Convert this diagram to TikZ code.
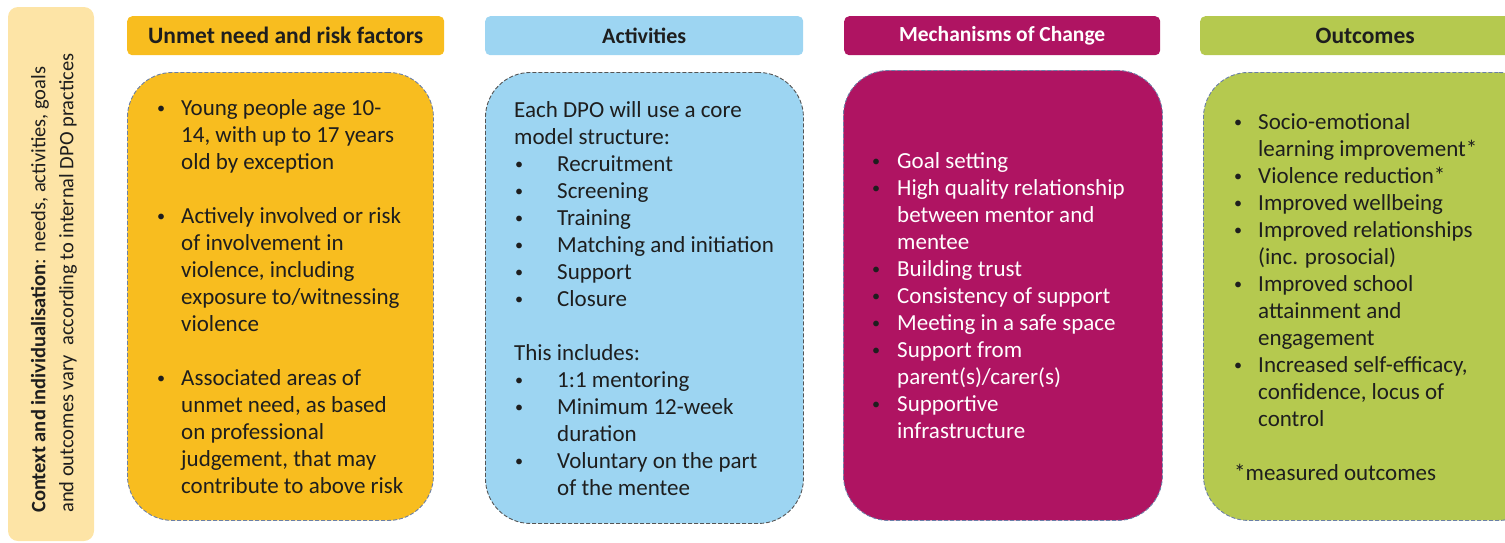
\documentclass[tikz,border=0pt]{standalone}
\usepackage{fontspec}
\setmainfont{Carlito}
\usepackage{array}
\usetikzlibrary{positioning}

\definecolor{needyellow}{HTML}{F8BD1F}
\definecolor{actblue}{HTML}{9DD5F2}
\definecolor{mechpink}{HTML}{AF1462}
\definecolor{outgreen}{HTML}{B5C94F}
\definecolor{ctxyellow}{HTML}{FDE4A6}
\definecolor{dashblue}{HTML}{6B80A8}
\definecolor{dashgrey}{HTML}{555555}
\definecolor{inkgrey}{HTML}{1E1E1E}

\tikzset{
  header/.style={rounded corners=5pt, minimum height=39pt, anchor=north west,
    inner sep=0pt, text=inkgrey, font=\fontsize{23.5}{26}\selectfont\bfseries},
  panel/.style={rounded corners=45pt, dash pattern=on 4pt off 2pt,
    line width=0.9pt, draw=dashblue, anchor=north west, inner sep=0pt},
  listtext/.style={anchor=west, inner sep=0pt, yshift=-3pt, text=inkgrey,
    font=\fontsize{23}{27}\selectfont},
}

\newcommand{\blt}{\raisebox{0.1em}{\scalebox{0.7}{\textbullet}}}

\begin{document}
\begin{tikzpicture}[x=1pt,y=-1pt]
    \useasboundingbox (0,0) rectangle (1505,542);
    \clip (0,0) rectangle (1505,542);

    % side bar
    \fill[ctxyellow, rounded corners=10pt] (8,7) rectangle (94,541);
    \node[rotate=90, anchor=west, align=left, inner sep=0pt, text=inkgrey,
      font=\fontsize{20.5}{28}\selectfont] (ctx) at (54,513)
      {\textbf{Context and individualisation}: needs, activities, goals\\
       and outcomes vary\ \ according to internal DPO practices};

    % column headers
    \node[header, fill=needyellow, minimum width=317pt] (needhead) at (127,16) {Unmet need and risk factors};
    \node[header, fill=actblue, minimum width=318pt, font=\fontsize{22}{26}\selectfont\bfseries] (acthead) at (485,16) {Activities};
    \node[header, fill=mechpink, minimum width=316pt, text=white, font=\fontsize{21.5}{26}\selectfont\bfseries] (mechhead) at (844,16) {Mechanisms of Change};
    \node[header, fill=outgreen, minimum width=330pt] (outhead) at (1200,16) {Outcomes};

    % column panels
    \node[panel, fill=needyellow, minimum width=306pt, minimum height=448pt] (needbox) at (127,72) {};
    \node[panel, fill=actblue, draw=dashgrey, minimum width=318pt, minimum height=451pt] (actbox) at (485,72) {};
    \node[panel, fill=mechpink, minimum width=319pt, minimum height=450pt] (mechbox) at (843,70) {};
    \node[panel, fill=outgreen, minimum width=340pt, minimum height=448pt] (outbox) at (1203,72) {};

    \node[listtext] (needtext) at ([xshift=30pt]needbox.west) {%
      \begin{tabular}{@{}p{24pt}@{}l@{}}
        \blt & Young people age 10-\\
             & 14, with up to 17 years\\
             & old by exception\\
             & \\
        \blt & Actively involved or risk\\
             & of involvement in\\
             & violence, including\\
             & exposure to/witnessing\\
             & violence\\
             & \\
        \blt & Associated areas of\\
             & unmet need, as based\\
             & on professional\\
             & judgement, that may\\
             & contribute to above risk
      \end{tabular}};

    \node[listtext] (acttext) at ([xshift=29pt]actbox.west) {%
      \begin{tabular}{@{\hspace{1pt}}p{42pt}@{}l@{}}
        \multicolumn{2}{@{}l@{}}{Each DPO will use a core}\\
        \multicolumn{2}{@{}l@{}}{model structure:}\\
        \blt & Recruitment\\
        \blt & Screening\\
        \blt & Training\\
        \blt & Matching and initiation\\
        \blt & Support\\
        \blt & Closure\\
             & \\
        \multicolumn{2}{@{}l@{}}{This includes:}\\
        \blt & 1:1 mentoring\\
        \blt & Minimum 12-week\\
             & duration\\
        \blt & Voluntary on the part\\
             & of the mentee
      \end{tabular}};

    \node[listtext] (mechtext) at ([xshift=29pt]mechbox.west) {%
      \begin{tabular}{@{}p{25pt}@{}>{\color{white}}l@{}}
        \blt & Goal setting\\
        \blt & High quality relationship\\
             & between mentor and\\
             & mentee\\
        \blt & Building trust\\
        \blt & Consistency of support\\
        \blt & Meeting in a safe space\\
        \blt & Support from\\
             & parent(s)/carer(s)\\
        \blt & Supportive\\
             & infrastructure
      \end{tabular}};

    \node[listtext] (outtext) at ([xshift=31pt]outbox.west) {%
      \begin{tabular}{@{}p{24pt}@{}l@{}}
        \blt & Socio-emotional\\
             & learning improvement*\\
        \blt & Violence reduction*\\
        \blt & Improved wellbeing\\
        \blt & Improved relationships\\
             & (inc. prosocial)\\
        \blt & Improved school\\
             & attainment and\\
             & engagement\\
        \blt & Increased self-efficacy,\\
             & confidence, locus of\\
             & control\\
             & \\
        \multicolumn{2}{@{}l@{}}{*measured outcomes}
      \end{tabular}};
\end{tikzpicture}
\end{document}
